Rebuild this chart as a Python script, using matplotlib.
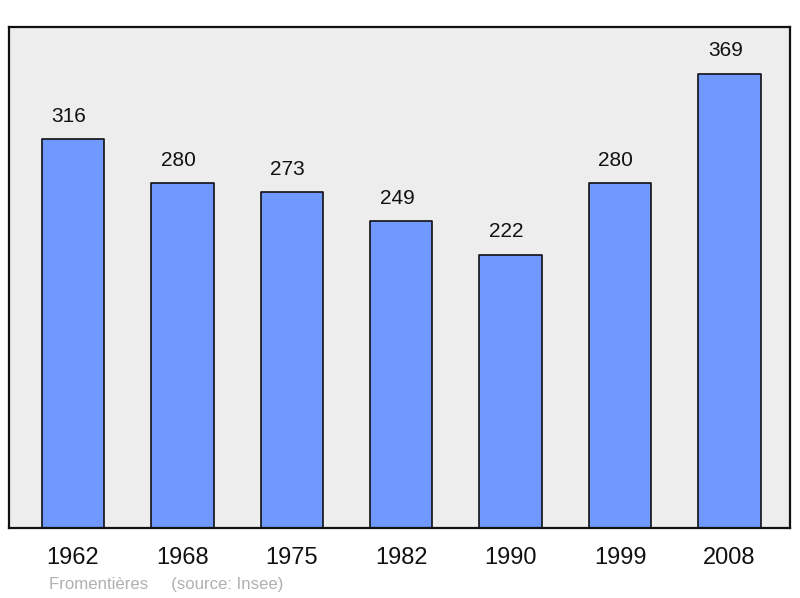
import matplotlib
matplotlib.use("Agg")
import matplotlib.pyplot as plt

years = ["1962", "1968", "1975", "1982", "1990", "1999", "2008"]
population = [316, 280, 273, 249, 222, 280, 369]
source_text = "Fromentières     (source: Insee)"

plt.rcParams['font.family'] = ['Liberation Sans', 'DejaVu Sans']

fig = plt.figure(figsize=(8, 5.98), dpi=100)
ax = fig.add_axes([9/800, 70/598, 781/800, 501/598])
ax.set_facecolor('#ededed')

x = list(range(len(years)))
bars = ax.bar(x, population, width=0.57, color='#7099ff', edgecolor='#111111',
              linewidth=1.2, joinstyle='round', zorder=2)
for xi, v in zip(x, population):
    ax.annotate(str(v), (xi, v), xytext=(-3, 16.5), textcoords='offset points',
                ha='center', va='center', fontsize=15, color='#111111')

ax.set_xlim(-0.585, 6.553)
ax.set_ylim(0, 407)
ax.set_yticks([])
ax.set_xticks(x)
ax.set_xticklabels(years, fontsize=17, color='#111111')
ax.tick_params(axis='x', length=0, pad=13.5)
for s in ax.spines.values():
    s.set_linewidth(1.6)
    s.set_color('#111111')

fig.text(49/800, 1 - 584/598, source_text, fontsize=12.1, color='#b0b0b0',
         ha='left', va='center')

fig.savefig("out.png", dpi=100)
